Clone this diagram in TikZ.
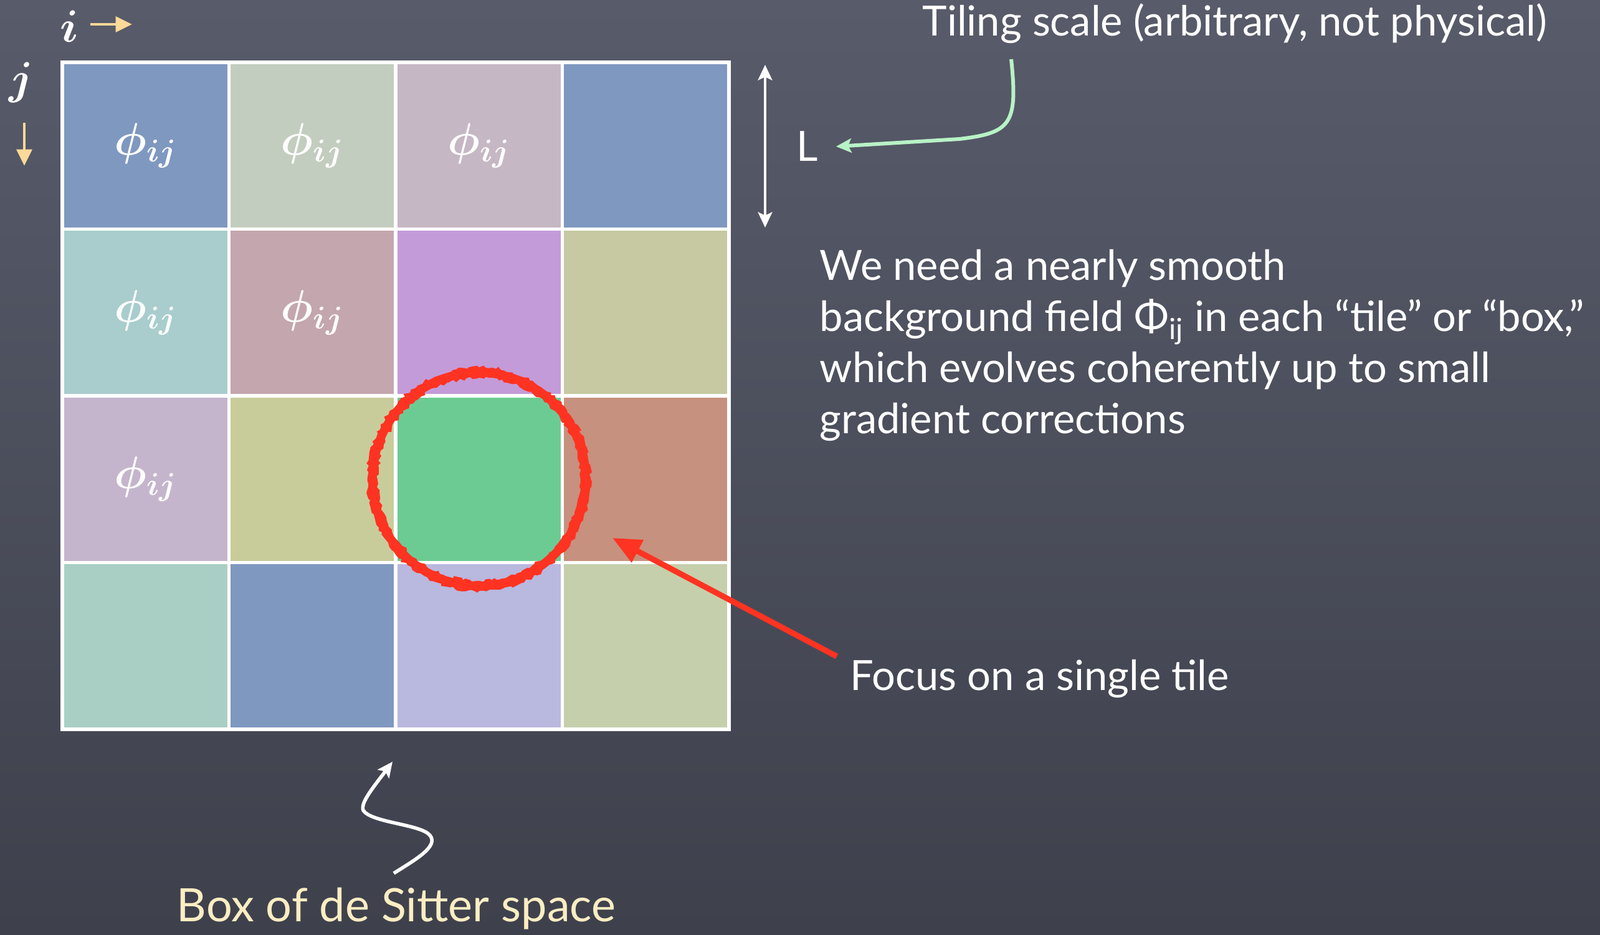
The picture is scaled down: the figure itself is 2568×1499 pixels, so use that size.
\documentclass[tikz,border=0pt]{standalone}
\usepackage{fontspec}
\setmainfont{Lato}
\usetikzlibrary{arrows.meta,positioning,calc,decorations.pathmorphing}
\definecolor{boardtop}{HTML}{585B6A}
\definecolor{boardbot}{HTML}{3E414C}
\definecolor{chalkyel}{HTML}{FBD998}
\definecolor{chalkgrn}{HTML}{B8F2C6}
\definecolor{chalkred}{HTML}{FF3322}
\definecolor{cream}{HTML}{FDEDC2}
\definecolor{tA}{HTML}{7F98C0}
\definecolor{tB}{HTML}{C3CDBF}
\definecolor{tC}{HTML}{C6B7C4}
\definecolor{tD}{HTML}{A8CDCC}
\definecolor{tE}{HTML}{C4A6AE}
\definecolor{tF}{HTML}{C39BD8}
\definecolor{tG}{HTML}{C6C9A1}
\definecolor{tH}{HTML}{C4B5CC}
\definecolor{tI}{HTML}{C8CC9B}
\definecolor{tJ}{HTML}{6CCB93}
\definecolor{tK}{HTML}{C6917E}
\definecolor{tL}{HTML}{A9CFC4}
\definecolor{tM}{HTML}{B9B8DE}
\definecolor{tN}{HTML}{C6CFAB}
\tikzset{
  tile/.style={draw=white, line width=1.5pt, minimum size=2.675cm, inner sep=0pt, text=white, font=\fontsize{22}{26}\selectfont\boldmath},
  idx/.style={text=white, inner sep=0pt, font=\fontsize{22}{26}\selectfont\boldmath},
  chalk/.style={text=white, inner sep=0pt, align=left, font=\fontsize{19}{23.4}\selectfont},
  yarr/.style={-{Triangle[length=7.5pt, width=7pt]}, chalkyel, line width=1.3pt},
  warr/.style={-{Stealth[length=7pt, width=6.5pt, inset=1.5pt]}, white, line width=1.2pt},
  garr/.style={-{Stealth[length=7pt, width=6.5pt, inset=1.5pt]}, chalkgrn, line width=1.7pt},
  rarr/.style={-{Triangle[length=13pt, width=11pt]}, chalkred, line width=2.6pt}
}
\begin{document}
\begin{tikzpicture}[x=0.01cm, y=-0.01cm]
  \shade[top color=boardtop, bottom color=boardbot] (0,0) rectangle (2568,1499);
  \useasboundingbox (0,0) rectangle (2568,1499);
  % the 4x4 tiling
  \foreach \r/\c/\col/\lab in {0/0/tA/$\phi_{ij}$, 0/1/tB/$\phi_{ij}$, 0/2/tC/$\phi_{ij}$, 0/3/tA/,
                                1/0/tD/$\phi_{ij}$, 1/1/tE/$\phi_{ij}$, 1/2/tF/, 1/3/tG/,
                                2/0/tH/$\phi_{ij}$, 2/1/tI/, 2/2/tJ/, 2/3/tK/,
                                3/0/tL/, 3/1/tA/, 3/2/tM/, 3/3/tN/}
    \node[tile, fill=\col] (t\r\c) at ({233.75+267.5*\c},{233.75+267.5*\r}) {\lab};
  % index directions
  \node[idx] (ilab) at (111,42) {$i$};
  \coordinate (iS) at (145,39);
  \coordinate (iE) at (212,39);
  \draw[yarr] (iS) -- (iE);
  \node[idx] (jlab) at (34,132) {$j$};
  \coordinate (jS) at (39,197);
  \coordinate (jE) at (39,266);
  \draw[yarr] (jS) -- (jE);
  % tiling scale
  \coordinate (Ltop) at (1228,104);
  \coordinate (Lbot) at (1228,365);
  \draw[warr, {Stealth[length=7pt, width=6.5pt, inset=1.5pt]}-{Stealth[length=7pt, width=6.5pt, inset=1.5pt]}] (Ltop) -- (Lbot);
  \node[chalk] (Llab) at (1296,235) {L};
  \node[chalk] (tiling) at (1982,38) {Tiling scale (arbitrary, not physical)};
  \coordinate (gS) at (1623,95);
  \draw[garr] (gS) .. controls (1634,200) and (1622,213) .. (1540,223) -- ([xshift=0.28cm]Llab.east);
  % explanation
  \node[chalk, anchor=west] (need) at (1315,554) {We need a nearly smooth\\
    background field Φ\textsubscript{ij} in each “tile” or “box,”\\
    which evolves coherently up to small\\
    gradient corrections};
  % focus
  \draw[chalkred, line width=3.9pt] (t22.center) circle[radius=171];
  \draw[chalkred, line width=1.2pt, decorate, decoration={random steps, segment length=1.5pt, amplitude=0.8pt}]
    (t22.center) circle[radius=177];
  \draw[chalkred, line width=1.2pt, decorate, decoration={random steps, segment length=1.5pt, amplitude=0.8pt}]
    (t22.center) circle[radius=165];
  \node[chalk, anchor=west] (focus) at (1364,1089) {Focus on a single tile};
  \coordinate (rS) at (1343,1053);
  \coordinate (rE) at (983,863);
  \draw[rarr] (rS) -- (rE);
  % box label
  \node[chalk, text=cream, font=\fontsize{21}{24}\selectfont] (boxlab) at (636,1458) {Box of de Sitter space};
  \coordinate (sqS) at (632,1401);
  \coordinate (sqE) at (630,1222);
  \draw[warr, line width=1.6pt] (sqS) .. controls (665,1380) and (705,1358) .. (690,1340)
    .. controls (675,1322) and (596,1320) .. (583,1300) .. controls (578,1288) and (600,1262) .. (sqE);
\end{tikzpicture}
\end{document}
